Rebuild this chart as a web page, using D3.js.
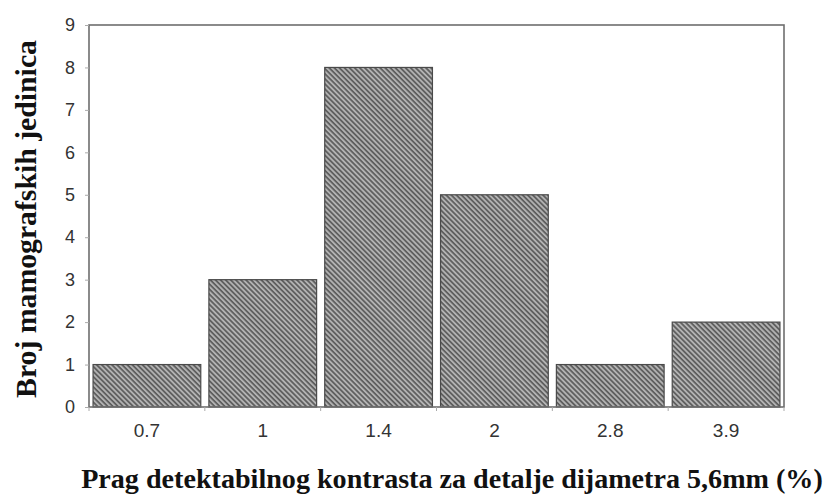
<!DOCTYPE html>
<html>
<head>
<meta charset="utf-8">
<script src="https://cdn.jsdelivr.net/npm/d3@7"></script>
<style>
  html, body { margin: 0; padding: 0; background: #fff; }
  svg { display: block; }
</style>
</head>
<body>
<svg id="chart" width="832" height="498"></svg>
<script>
const categories = ['0.7', '1', '1.4', '2', '2.8', '3.9'];
const counts = [1, 3, 8, 5, 1, 2];
const yTicks = [0, 1, 2, 3, 4, 5, 6, 7, 8, 9];

const width = 832;
const height = 498;
const margin = { top: 25, right: 48, bottom: 91, left: 89 };
const innerW = width - margin.left - margin.right;
const innerH = height - margin.top - margin.bottom;

const tickFont = '"Liberation Sans", Arial, sans-serif';
const titleFont = '"Liberation Serif", "DejaVu Serif", serif';

const svg = d3.select('#chart');

// diagonal hatch ("\\\" direction) used by all bars
const defs = svg.append('defs');
const pat = defs.append('pattern')
  .attr('id', 'hatch')
  .attr('patternUnits', 'userSpaceOnUse')
  .attr('width', 3.6)
  .attr('height', 3.6)
  .attr('patternTransform', 'rotate(45)');
pat.append('rect').attr('width', 3.6).attr('height', 3.6).attr('fill', '#b2b2b2');
pat.append('rect').attr('width', 3.6).attr('height', 1.7).attr('fill', '#5c5c5c');

const x = d3.scaleBand().domain(categories).range([0, innerW]).paddingInner(0.07).paddingOuter(0.035);
const y = d3.scaleLinear().domain([0, 9]).range([innerH, 0]);

const g = svg.append('g').attr('transform', `translate(${margin.left},${margin.top})`);

g.selectAll('rect.bar')
  .data(counts)
  .join('rect')
  .attr('class', 'bar')
  .attr('x', (d, i) => x(categories[i]))
  .attr('y', d => y(d))
  .attr('width', x.bandwidth())
  .attr('height', d => innerH - y(d))
  .attr('fill', 'url(#hatch)')
  .attr('stroke', '#4a4a4a')
  .attr('stroke-width', 1.2);

// frame
g.append('rect')
  .attr('width', innerW)
  .attr('height', innerH)
  .attr('fill', 'none')
  .attr('stroke', '#6e6e6e')
  .attr('stroke-width', 1.6);

const yAxis = d3.axisLeft(y).tickValues(yTicks).tickSize(4).tickPadding(10).tickFormat(d3.format('d'));
const ya = g.append('g').call(yAxis);
ya.select('.domain').remove();
ya.selectAll('line').attr('stroke', '#aaa');
ya.selectAll('text')
  .style('font-family', tickFont)
  .style('font-size', '18px')
  .attr('fill', '#333');

// x ticks sit on band boundaries, labels at band centers
const bounds = d3.range(categories.length + 1).map(i => i * (innerW / categories.length));
g.append('g').selectAll('line')
  .data(bounds)
  .join('line')
  .attr('x1', d => d).attr('x2', d => d)
  .attr('y1', innerH).attr('y2', innerH + 4)
  .attr('stroke', '#aaa');

g.append('g').selectAll('text')
  .data(categories)
  .join('text')
  .attr('x', d => x(d) + x.bandwidth() / 2)
  .attr('y', innerH + 30)
  .attr('text-anchor', 'middle')
  .style('font-family', tickFont)
  .style('font-size', '19px')
  .attr('fill', '#333')
  .text(d => d);

// size a title so it spans the wanted length
function fitTitle(sel, target) {
  const len = sel.node().getComputedTextLength();
  const fs = parseFloat(sel.style('font-size'));
  sel.style('font-size', (fs * target / len).toFixed(2) + 'px');
}

const xTitle = svg.append('text')
  .attr('x', 452)
  .attr('y', 488)
  .attr('text-anchor', 'middle')
  .style('font-family', titleFont)
  .style('font-weight', 'bold')
  .style('font-size', '24px')
  .attr('fill', '#111')
  .text('Prag detektabilnog kontrasta za detalje dijametra 5,6mm (%)');
fitTitle(xTitle, 742);

const yTitle = svg.append('text')
  .attr('transform', 'translate(36,219) rotate(-90)')
  .attr('text-anchor', 'middle')
  .style('font-family', titleFont)
  .style('font-weight', 'bold')
  .style('font-size', '24px')
  .attr('fill', '#111')
  .text('Broj mamografskih jedinica');
fitTitle(yTitle, 358);
</script>
</body>
</html>
